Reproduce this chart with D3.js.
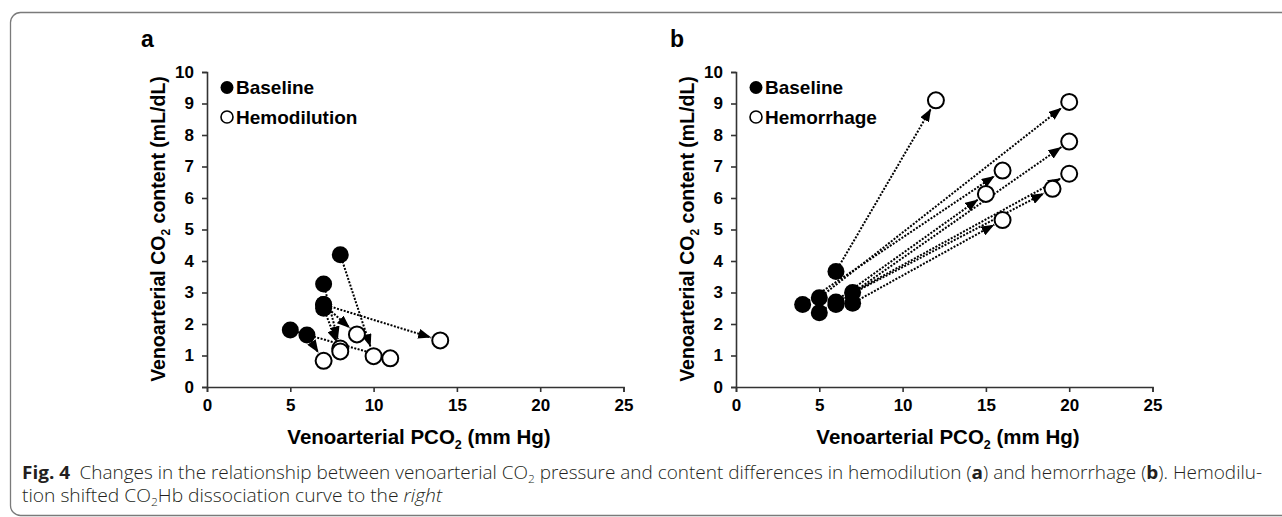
<!DOCTYPE html>
<meta charset="utf-8">
<script src="https://d3js.org/d3.v7.min.js"></script>
<body style="margin:0; background:#fff">
<div id="fig"></div>
</body>
<script>

    // Panel a: baseline -> hemodilution pairs (PCO2 gap, CO2 content gap)
    var baseA_x = [8, 7, 7, 7, 7, 6, 5];
    var baseA_y = [4.2, 2.62, 2.62, 3.27, 2.5, 1.65, 1.81];
    var hemoA_x = [10, 14, 9, 8, 8, 7, 11];
    var hemoA_y = [0.98, 1.48, 1.67, 1.22, 1.13, 0.83, 0.91];

    // Panel b: baseline -> hemorrhage pairs
    var baseB_x = [6, 5, 6, 7, 4, 5, 6, 7];
    var baseB_y = [3.67, 2.83, 2.62, 3.0, 2.62, 2.36, 2.7, 2.66];
    var hemoB_x = [12, 20, 20, 20, 16, 15, 19, 16];
    var hemoB_y = [9.1, 9.05, 7.79, 6.77, 6.87, 6.13, 6.29, 5.3];

    var xTicks = [0, 5, 10, 15, 20, 25];
    var yTicks = [0, 1, 2, 3, 4, 5, 6, 7, 8, 9, 10];

    var W = 1282, H = 517;
    var svg = d3.select("#fig").append("svg")
        .attr("width", W).attr("height", H)
        .style("font-family", "'Liberation Sans', Arial, sans-serif");

    // outer rounded box
    svg.append("rect")
        .attr("x", 10.5).attr("y", 12.5)
        .attr("width", 1300).attr("height", 503)
        .attr("rx", 10)
        .attr("fill", "none").attr("stroke", "#7a7a7a").attr("stroke-width", 1.3);

    // arrow head
    svg.append("defs").append("marker")
        .attr("id", "arr")
        .attr("viewBox", "0 0 13 10")
        .attr("refX", 13).attr("refY", 5)
        .attr("markerWidth", 13).attr("markerHeight", 10)
        .attr("markerUnits", "userSpaceOnUse")
        .attr("orient", "auto")
        .append("path").attr("d", "M0,0 L13,5 L0,10 Z").attr("fill", "#000");

    function drawPanel(x0, label, legend2, bx, by, hx, hy) {
        var x = d3.scaleLinear().domain([0, 25]).range([x0, x0 + 416.5]);
        var y = d3.scaleLinear().domain([0, 10]).range([387, 72]);
        var g = svg.append("g");

        // axes
        var ax = g.append("g")
            .attr("transform", "translate(0,387)")
            .call(d3.axisBottom(x).tickValues(xTicks).tickSize(5).tickPadding(7));
        var ay = g.append("g")
            .attr("transform", "translate(" + x0 + ",0)")
            .call(d3.axisLeft(y).tickValues(yTicks).tickSize(5).tickPadding(8));
        [ax, ay].forEach(function (a) {
            a.select(".domain").attr("stroke", "#333").attr("stroke-width", 1.6);
            a.selectAll(".tick line").attr("stroke", "#333").attr("stroke-width", 1.6);
            a.selectAll("text")
                .attr("fill", "#000")
                .style("font-size", "17px")
                .style("font-weight", "bold")
                .style("font-family", "'Liberation Sans', Arial, sans-serif");
        });

        // axis titles
        var xt = g.append("text")
            .attr("x", x0 + 212).attr("y", 444)
            .attr("text-anchor", "middle")
            .style("font-size", "20.5px").style("font-weight", "bold");
        xt.append("tspan").text("Venoarterial PCO");
        xt.append("tspan").text("2").attr("dy", 5).style("font-size", "12.5px");
        xt.append("tspan").text(" (mm Hg)").attr("dy", -5);

        var yt = g.append("text")
            .attr("transform", "translate(" + (x0 - 42) + ",229) rotate(-90)")
            .attr("text-anchor", "middle")
            .style("font-size", "19.5px").style("font-weight", "bold");
        yt.append("tspan").text("Venoarterial CO");
        yt.append("tspan").text("2").attr("dy", 5).style("font-size", "12px");
        yt.append("tspan").text(" content (mL/dL)").attr("dy", -5);

        // panel letter
        g.append("text")
            .attr("x", x0 - 66).attr("y", 47)
            .style("font-size", "23px").style("font-weight", "bold")
            .text(label);

        // legend
        g.append("circle").attr("cx", x0 + 20).attr("cy", 87.5).attr("r", 6.5).attr("fill", "#000");
        g.append("circle").attr("cx", x0 + 20).attr("cy", 117).attr("r", 6)
            .attr("fill", "#fff").attr("stroke", "#000").attr("stroke-width", 1.6);
        g.append("text").attr("x", x0 + 29).attr("y", 94)
            .style("font-size", "19px").style("font-weight", "bold").text("Baseline");
        g.append("text").attr("x", x0 + 29).attr("y", 124)
            .style("font-size", "19px").style("font-weight", "bold").text(legend2);

        var idx = d3.range(bx.length);
        var r = 8;

        // baseline dots
        g.append("g").selectAll("circle")
            .data(idx).enter().append("circle")
            .attr("cx", function (i) { return x(bx[i]); })
            .attr("cy", function (i) { return y(by[i]); })
            .attr("r", r + 0.5)
            .attr("fill", "#000");

        // dotted arrows, stopping at the open circle edge
        g.append("g").selectAll("line")
            .data(idx).enter().append("line")
            .attr("x1", function (i) { return x(bx[i]); })
            .attr("y1", function (i) { return y(by[i]); })
            .attr("x2", function (i) {
                var dx = x(hx[i]) - x(bx[i]), dy = y(hy[i]) - y(by[i]);
                var L = Math.sqrt(dx * dx + dy * dy);
                return x(hx[i]) - dx / L * (r + 1.5);
            })
            .attr("y2", function (i) {
                var dx = x(hx[i]) - x(bx[i]), dy = y(hy[i]) - y(by[i]);
                var L = Math.sqrt(dx * dx + dy * dy);
                return y(hy[i]) - dy / L * (r + 1.5);
            })
            .attr("stroke", "#000")
            .attr("stroke-width", 2)
            .attr("stroke-dasharray", "2,1.5")
            .attr("marker-end", "url(#arr)");

        // condition dots
        g.append("g").selectAll("circle")
            .data(idx).enter().append("circle")
            .attr("cx", function (i) { return x(hx[i]); })
            .attr("cy", function (i) { return y(hy[i]); })
            .attr("r", r)
            .attr("fill", "#fff")
            .attr("stroke", "#000")
            .attr("stroke-width", 2);
    }

    drawPanel(207, "a", "Hemodilution", baseA_x, baseA_y, hemoA_x, hemoA_y);
    drawPanel(736, "b", "Hemorrhage", baseB_x, baseB_y, hemoB_x, hemoB_y);

    // caption
    var capFont = "'Open Sans', 'Noto Sans', sans-serif";
    var c1 = svg.append("text")
        .attr("x", 22).attr("y", 479)
        .attr("textLength", 1240).attr("lengthAdjust", "spacingAndGlyphs")
        .style("font-family", capFont).style("font-size", "17.5px")
        .style("font-weight", 300).attr("fill", "#231f20");
    c1.append("tspan").text("Fig. 4").style("font-weight", "bold");
    c1.append("tspan").text("\u2002Changes in the relationship between venoarterial CO");
    c1.append("tspan").text("2").attr("dy", 4).style("font-size", "11px");
    c1.append("tspan").text(" pressure and content differences in hemodilution (").attr("dy", -4);
    c1.append("tspan").text("a").style("font-weight", "bold");
    c1.append("tspan").text(") and hemorrhage (");
    c1.append("tspan").text("b").style("font-weight", "bold");
    c1.append("tspan").text("). Hemodilu-");

    var c2 = svg.append("text")
        .attr("x", 22).attr("y", 502)
        .attr("textLength", 420).attr("lengthAdjust", "spacingAndGlyphs")
        .style("font-family", capFont).style("font-size", "17.5px")
        .style("font-weight", 300).attr("fill", "#231f20");
    c2.append("tspan").text("tion shifted CO");
    c2.append("tspan").text("2").attr("dy", 4).style("font-size", "11px");
    c2.append("tspan").text("Hb dissociation curve to the ").attr("dy", -4);
    c2.append("tspan").text("right").style("font-style", "italic");

</script>
